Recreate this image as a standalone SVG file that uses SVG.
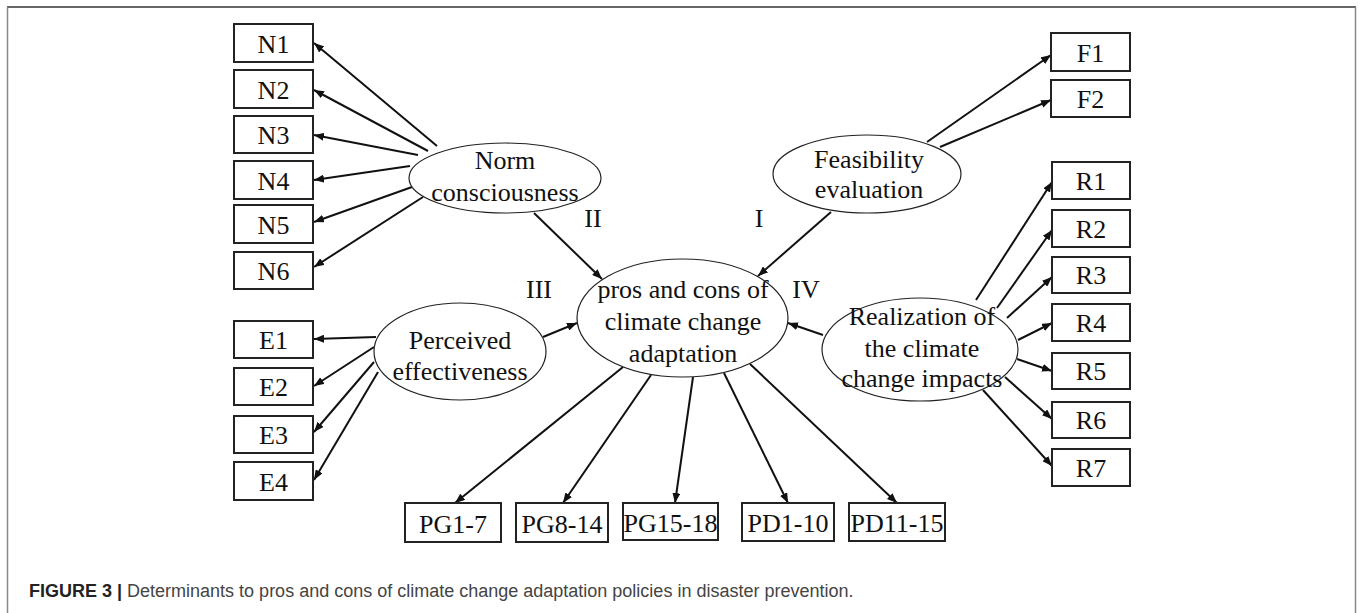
<svg xmlns="http://www.w3.org/2000/svg" width="1360" height="613" viewBox="0 0 1360 613">
<defs>
<marker id="ah" viewBox="0 0 10 8" refX="10" refY="4" markerWidth="10" markerHeight="8" markerUnits="userSpaceOnUse" orient="auto">
<path d="M0,0 L10,4 L0,8 Z" fill="#111"/>
</marker>
</defs>
<style>
.box{fill:#fff;stroke:#222;stroke-width:2}
.ell{fill:#fff;stroke:#222;stroke-width:1.2}
.t{font-family:"Liberation Serif","Times New Roman",serif;font-size:26px;fill:#111;text-anchor:middle}
.c line{stroke:#111;stroke-width:2;marker-end:url(#ah)}
.cap{font-family:"Liberation Sans",Arial,sans-serif;font-size:18px;fill:#444}
</style>
<rect width="1360" height="613" fill="#fff"/>
<g id="frame">
<line x1="7" y1="7" x2="1356" y2="7" stroke="#333" stroke-width="1.5"/>
<line x1="7.5" y1="7" x2="7.5" y2="613" stroke="#888" stroke-width="1.5"/>
<line x1="1355.5" y1="7" x2="1355.5" y2="613" stroke="#888" stroke-width="1.5"/>
</g>
<g id="connectors" class="c">
<line x1="437" y1="146" x2="314" y2="43"/>
<line x1="428" y1="151" x2="314" y2="90"/>
<line x1="418" y1="155" x2="314" y2="135"/>
<line x1="410" y1="166" x2="314" y2="180"/>
<line x1="412" y1="187" x2="314" y2="222"/>
<line x1="423" y1="197" x2="314" y2="267"/>
<line x1="376" y1="337" x2="314" y2="339"/>
<line x1="374" y1="347" x2="314" y2="386"/>
<line x1="374" y1="362" x2="314" y2="432"/>
<line x1="378" y1="372" x2="314" y2="480"/>
<line x1="927" y1="142" x2="1051" y2="55"/>
<line x1="940" y1="147" x2="1051" y2="100"/>
<line x1="976" y1="300" x2="1052" y2="182"/>
<line x1="997" y1="308" x2="1052" y2="230"/>
<line x1="1007" y1="318" x2="1052" y2="277"/>
<line x1="1018" y1="340" x2="1052" y2="323"/>
<line x1="1017" y1="359" x2="1052" y2="371"/>
<line x1="1005" y1="377" x2="1052" y2="419"/>
<line x1="983" y1="390" x2="1052" y2="466"/>
<line x1="534" y1="213" x2="602" y2="279"/>
<line x1="831" y1="212" x2="758" y2="276"/>
<line x1="543" y1="337" x2="577" y2="323"/>
<line x1="823" y1="335" x2="788" y2="323"/>
<line x1="623" y1="367" x2="455" y2="503"/>
<line x1="651" y1="375" x2="563" y2="503"/>
<line x1="693" y1="377" x2="675" y2="503"/>
<line x1="724" y1="373" x2="788" y2="503"/>
<line x1="750" y1="364" x2="897" y2="503"/>
</g>
<g id="N1"><rect class="box" x="234" y="24" width="79" height="38"/><text class="t" x="273.5" y="53">N1</text></g>
<g id="N2"><rect class="box" x="234" y="70" width="79" height="38"/><text class="t" x="273.5" y="99">N2</text></g>
<g id="N3"><rect class="box" x="234" y="116" width="79" height="37"/><text class="t" x="273.5" y="144">N3</text></g>
<g id="N4"><rect class="box" x="234" y="161" width="79" height="38"/><text class="t" x="273.5" y="190">N4</text></g>
<g id="N5"><rect class="box" x="234" y="205" width="79" height="38"/><text class="t" x="273.5" y="234">N5</text></g>
<g id="N6"><rect class="box" x="234" y="252" width="79" height="37"/><text class="t" x="273.5" y="280">N6</text></g>
<g id="E1"><rect class="box" x="234" y="321" width="79" height="37"/><text class="t" x="273.5" y="349">E1</text></g>
<g id="E2"><rect class="box" x="234" y="368" width="79" height="37"/><text class="t" x="273.5" y="396">E2</text></g>
<g id="E3"><rect class="box" x="234" y="416" width="79" height="37"/><text class="t" x="273.5" y="444">E3</text></g>
<g id="E4"><rect class="box" x="234" y="462" width="79" height="38"/><text class="t" x="273.5" y="491">E4</text></g>
<g id="F1"><rect class="box" x="1051" y="33" width="79" height="38"/><text class="t" x="1090.5" y="62">F1</text></g>
<g id="F2"><rect class="box" x="1051" y="80" width="79" height="37"/><text class="t" x="1090.5" y="108">F2</text></g>
<g id="R1"><rect class="box" x="1052" y="162" width="78" height="37"/><text class="t" x="1091" y="190">R1</text></g>
<g id="R2"><rect class="box" x="1052" y="210" width="78" height="37"/><text class="t" x="1091" y="238">R2</text></g>
<g id="R3"><rect class="box" x="1052" y="257" width="78" height="36"/><text class="t" x="1091" y="284">R3</text></g>
<g id="R4"><rect class="box" x="1052" y="304" width="78" height="37"/><text class="t" x="1091" y="332">R4</text></g>
<g id="R5"><rect class="box" x="1052" y="353" width="78" height="36"/><text class="t" x="1091" y="380">R5</text></g>
<g id="R6"><rect class="box" x="1052" y="402" width="78" height="36"/><text class="t" x="1091" y="429">R6</text></g>
<g id="R7"><rect class="box" x="1052" y="449" width="78" height="37"/><text class="t" x="1091" y="477">R7</text></g>
<g id="PG1-7"><rect class="box" x="405" y="503" width="96" height="39"/><text class="t" x="453" y="533">PG1-7</text></g>
<g id="PG8-14"><rect class="box" x="516" y="503" width="92" height="39"/><text class="t" x="562" y="533">PG8-14</text></g>
<g id="PG15-18"><rect class="box" x="623" y="503" width="95" height="37"/><text class="t" x="670.5" y="532">PG15-18</text></g>
<g id="PD1-10"><rect class="box" x="742" y="503" width="92" height="38"/><text class="t" x="788" y="532">PD1-10</text></g>
<g id="PD11-15"><rect class="box" x="849" y="503" width="96" height="38"/><text class="t" x="897" y="532">PD11-15</text></g>
<g id="norm"><ellipse class="ell" cx="505" cy="178" rx="96" ry="35"/><text class="t" x="505" y="169">Norm</text><text class="t" x="505" y="201">consciousness</text></g>
<g id="feasibility"><ellipse class="ell" cx="867" cy="174" rx="94" ry="39"/><text class="t" x="869" y="168">Feasibility</text><text class="t" x="869" y="198">evaluation</text></g>
<g id="perceived"><ellipse class="ell" cx="460" cy="351.5" rx="86" ry="48.5"/><text class="t" x="460" y="349">Perceived</text><text class="t" x="460" y="380">effectiveness</text></g>
<g id="center"><ellipse class="ell" cx="682.5" cy="318" rx="105.5" ry="59"/><text class="t" x="683" y="298">pros and cons of</text><text class="t" x="683" y="330">climate change</text><text class="t" x="683" y="362">adaptation</text></g>
<g id="realization"><ellipse class="ell" cx="920" cy="349.5" rx="98" ry="51.5"/><text class="t" x="922" y="325">Realization of</text><text class="t" x="922" y="357">the climate</text><text class="t" x="922" y="387">change impacts</text></g>
<g id="labels">
<text class="t" x="593" y="227">II</text>
<text class="t" x="759" y="227">I</text>
<text class="t" x="539" y="298">III</text>
<text class="t" x="806" y="298">IV</text>
</g>
<g id="caption"><text class="cap" x="29" y="597"><tspan font-weight="bold" fill="#222">FIGURE 3 |</tspan> Determinants to pros and cons of climate change adaptation policies in disaster prevention.</text></g>
</svg>
